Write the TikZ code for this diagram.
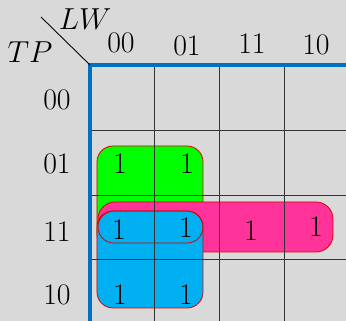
\documentclass[tikz,border=0pt]{standalone}
\usepackage{amsmath,amssymb}
\usepackage{tikz}
\usetikzlibrary{positioning}
\definecolor{bgray}{RGB}{217,217,217}
\definecolor{axisblue}{RGB}{0,112,192}
\definecolor{kgreen}{RGB}{0,255,0}
\definecolor{kpink}{RGB}{255,51,153}
\definecolor{kblue}{RGB}{0,176,240}

\begin{document}
\begin{tikzpicture}[x = 0.02cm, y = -0.02cm,
    every node/.style = { inner sep = 0pt, font = \fontsize{17}{20}\selectfont },
    varname/.style = { font = \fontsize{16}{19}\selectfont },
    grp/.style = { draw = red!85!black, line width = 0.45pt, rounded corners = 0.32cm },
    gridline/.style = { draw = black!80, line width = 0.5pt },
    axis/.style = { draw = axisblue, line width = 2.1pt }]
    \fill[bgray] (0,0) rectangle (346,321);
    \useasboundingbox (0,0) rectangle (346,321);

    % groups of ones
    \draw[grp, fill = kgreen] (97,146) rectangle (203,251);
    \draw[grp, fill = kpink, rounded corners = 0.34cm] (98,202) rectangle (333,252);
    \draw[grp, fill = kblue] (97,211) rectangle (203,308);
    \draw[grp] (98,211) rectangle (203,243);

    % map grid
    \begin{scope}
      \clip (0,0) rectangle (346,321);
      \foreach \gx in {154,219,284} \draw[gridline] (\gx,65) -- (\gx,330);
      \foreach \gy in {130,195,259} \draw[gridline] (90,\gy) -- (350,\gy);
      \draw[axis] (90,330) -- (90,65) -- (350,65);
    \end{scope}

    \coordinate (corner) at (90,65);
    \coordinate (tip) at (41,17);
    \draw[line width = 0.5pt] (tip) -- (corner);
    \node[varname] (lw) at (85,19) {$LW$};
    \node[varname] (tp) at (30,52) {$TP$};

    % column and row labels
    \node (c00) at (121,43) {00};
    \node (c01) at (187,46) {01};
    \node (c11) at (252,44) {11};
    \node (c10) at (316,45) {10};
    \node (r00) at (57,100) {00};
    \node (r01) at (57,164) {01};
    \node (r11) at (57,232) {11};
    \node (r10) at (57,295) {10};

    % cell entries
    \node (m1) at (120,164) {1};
    \node (m3) at (187,164) {1};
    \node (m5) at (119,230) {1};
    \node (m7) at (186,228) {1};
    \node (m15) at (251,231) {1};
    \node (m13) at (316,227) {1};
    \node (m4) at (120,295) {1};
    \node (m6) at (186,295) {1};
\end{tikzpicture}
\end{document}
